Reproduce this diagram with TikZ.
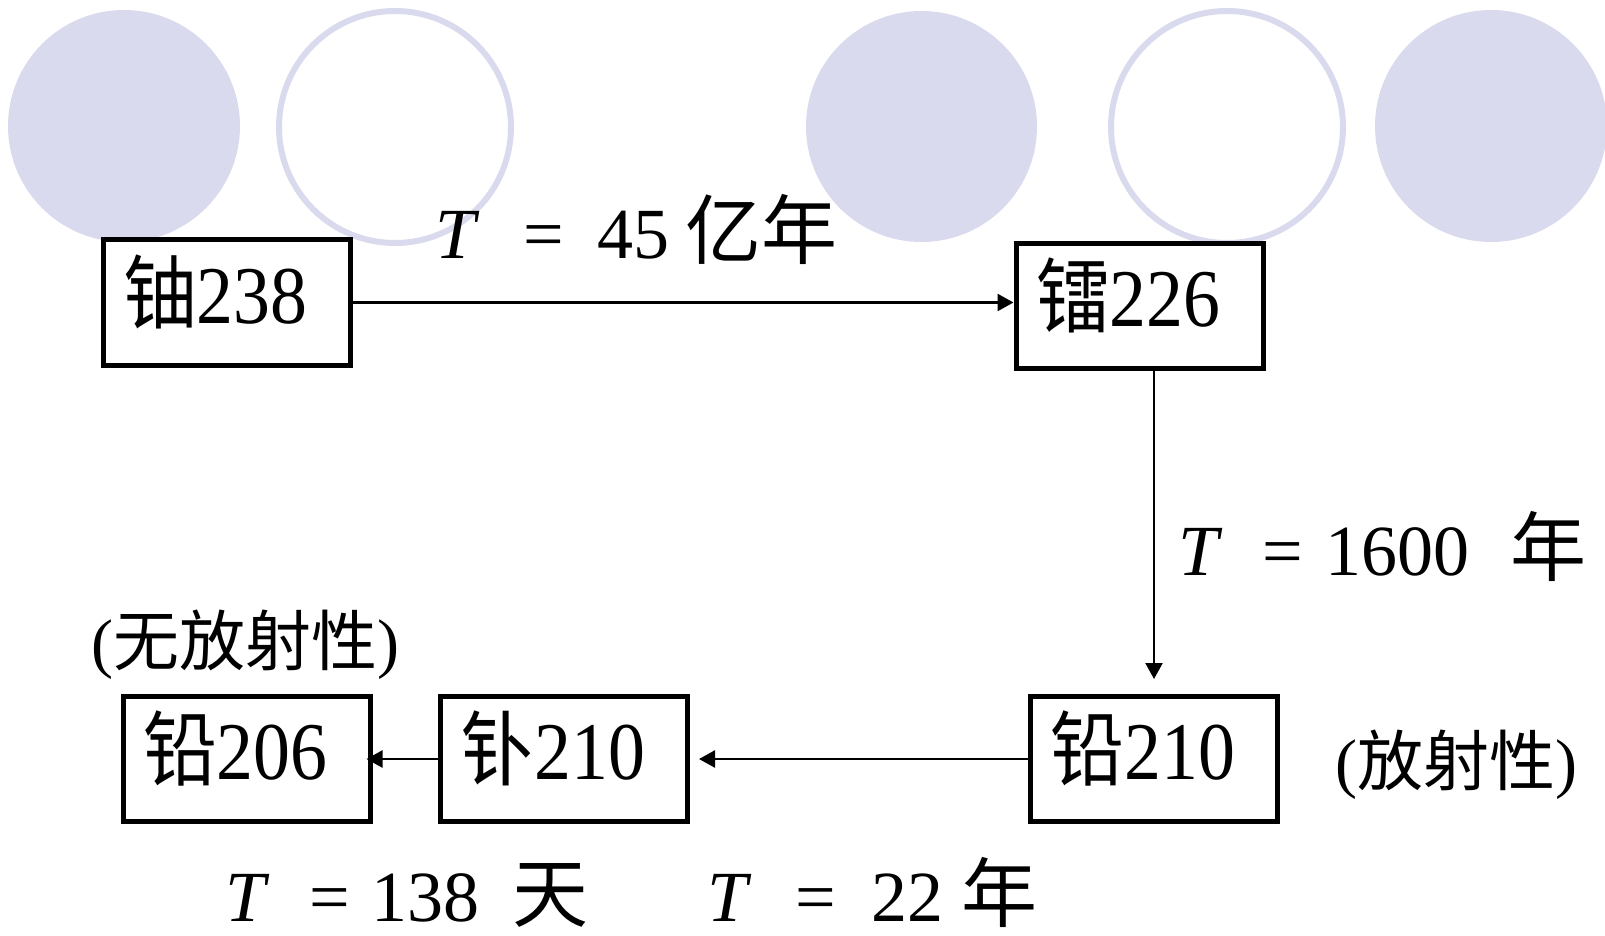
\documentclass[tikz,border=0pt]{standalone}
\usepackage{fontspec}
\usepackage{graphicx}
\setmainfont{Liberation Serif}
\newfontfamily\cjk{Noto Sans CJK SC}
\usetikzlibrary{arrows.meta}
\definecolor{lav}{RGB}{218,218,238}
% condensed box lettering and Chinese text helpers
\newcommand{\sq}[1]{\scalebox{0.9}[1]{#1}}
\newcommand{\zh}[1]{{\cjk #1}}
\newcommand{\zhl}[1]{{\cjk\fontsize{38}{38}\selectfont #1}}

\begin{document}
\begin{tikzpicture}[x=0.5pt,y=-0.5pt,
  nuclide/.style={draw, line width=2.5pt, fill=white, text width=103.5pt,
    inner xsep=10pt, inner ysep=0pt, minimum height=62.5pt, align=left,
    text height=30pt, text depth=9.5pt, font=\fontsize{41}{41}\selectfont},
  decay/.style={-{Triangle[length=8pt,width=8.5pt]}, line width=1.2pt},
  halflife/.style={anchor=base west, inner sep=0pt, font=\fontsize{36}{36}\selectfont},
  note/.style={anchor=base west, inner sep=0pt, font=\fontsize{33}{33}\selectfont},
  dot/.style={fill=lav},
  ring/.style={draw=lav, line width=3pt}]

\useasboundingbox (0,0) rectangle (1605,936);

% decorative row of discs
\fill[dot]  (124,126)   circle (58pt);
\draw[ring] (395,127)   circle (58pt);
\fill[dot]  (921.5,126.5) circle (57.75pt);
\draw[ring] (1227,127)  circle (58pt);
\fill[dot]  (1491,126)  circle (58pt);

% nuclides of the decay chain
\node[nuclide] (u238)  at (226.5,302.5) {\sq{\zh{铀}238}};
\node[nuclide] (ra226) at (1139.5,306)  {\sq{\zh{镭}226}};
\node[nuclide] (pb210) at (1154,759)    {\sq{\zh{铅}210}};
\node[nuclide] (po210) at (564,759)     {\sq{\zh{钋}210}};
\node[nuclide] (pb206) at (246.5,759)   {\sq{\zh{铅}206}};

% decay steps
\draw[decay] (u238.east) -- (u238.east -| ra226.west);
\draw[decay, shorten >=7.5pt] (ra226.south -| pb210.north) -- (pb210.north);
\draw[decay, shorten >=4.5pt] (pb210.west) -- (po210.east);
\draw[decay, shorten >=-3pt] (po210.west) -- (pb206.east);

% half-lives
\node[halflife] (t1) at (435,258) {\textit{T}\hspace{0.61em}=\hspace{0.46em}45\hspace{0.22em}\zhl{亿年}};
\node[halflife] (t2) at (1178,575) {\textit{T}\hspace{0.55em}=\hspace{0.31em}1600\hspace{0.57em}\zhl{年}};
\node[halflife] (t3) at (225,921) {\textit{T}\hspace{0.55em}=\hspace{0.3em}138\hspace{0.46em}\zhl{天}};
\node[halflife] (t4) at (707,921) {\textit{T}\hspace{0.61em}=\hspace{0.49em}22\hspace{0.25em}\zhl{年}};

% remarks
\node[note] (n1) at (91,665) {(\zh{无放射性})};
\node[note] (n2) at (1335,785) {(\zh{放射性})};
\end{tikzpicture}
\end{document}
